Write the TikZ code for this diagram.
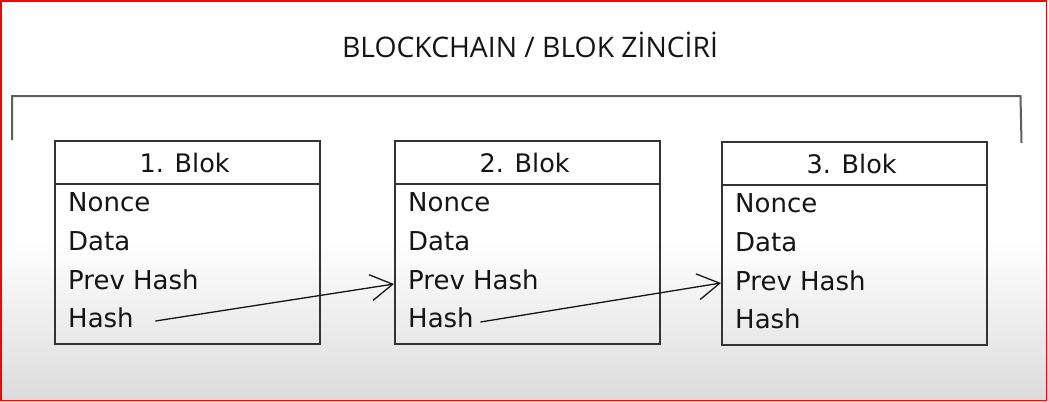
\documentclass[tikz,border=0pt]{standalone}
\usepackage{fontspec}
\setmainfont{DejaVu Sans}
\newfontfamily\titlefont{Open Sans}
\usetikzlibrary{arrows.meta,calc}
\definecolor{boxline}{HTML}{333333}
\definecolor{txt}{HTML}{151515}
\definecolor{brk}{HTML}{5E5E5E}
\begin{document}
\begin{tikzpicture}[x=1pt,y=-1pt,
  blokbox/.style={draw=boxline, line width=2.2pt, rectangle, minimum width=265pt, minimum height=203pt, anchor=north west, inner sep=0pt},
  headtxt/.style={anchor=base, inner sep=0pt, text=txt, font=\fontsize{25.5}{30}\selectfont},
  rowtxt/.style={anchor=base west, inner sep=0pt, text=txt, font=\fontsize{26}{30}\selectfont},
  link/.style={draw=txt, line width=1.3pt, -{Straight Barb[length=22pt,width=26pt]}}
]
\useasboundingbox (0,0) rectangle (1049,402);
\fill[white] (0,0) rectangle (1049,241);
\shade[top color=white, bottom color=black!14] (0,240) rectangle (1049,402);
\draw[red, line width=1.6pt] (0.8,0.8) rectangle (1046.6,400.6);

\node[font=\titlefont\fontsize{28.3}{32}\selectfont, text=txt] (title) at (530,45) {BLOCKCHAIN / BLOK ZİNCİRİ};

\draw[brk, line width=2pt] (12,140) -- (12,96) -- (1020.5,96) -- (1021.5,143);

\foreach \i/\x/\y in {1/54/140, 2/394/140, 3/721/141} {
  \node[blokbox] (b\i) at (\x,\y) {};
  \draw[boxline, line width=2pt] ($(b\i.north west)+(0,44)$) -- ($(b\i.north east)+(0,44)$);
  \node[headtxt] (t\i) at ($(b\i.north)+(-3,32)$) {\i. Blok};
  \node[rowtxt] (n\i) at ($(b\i.north west)+(14,71)$) {Nonce};
  \node[rowtxt] (d\i) at ($(b\i.north west)+(14,110)$) {Data};
  \node[rowtxt] (p\i) at ($(b\i.north west)+(14,149)$) {Prev Hash};
  \node[rowtxt] (h\i) at ($(b\i.north west)+(14,187)$) {Hash};
}

\coordinate (s1) at ($(h1.base east)+(21.5,-6)$);
\coordinate (e2) at ($(b2.north west)+(0,144)$);
\coordinate (s2) at ($(h2.base east)+(6.5,-5)$);
\coordinate (e3) at ($(b3.north west)+(0,142)$);
\draw[link] (s1) -- (e2);
\draw[link] (s2) -- (e3);
\end{tikzpicture}
\end{document}
